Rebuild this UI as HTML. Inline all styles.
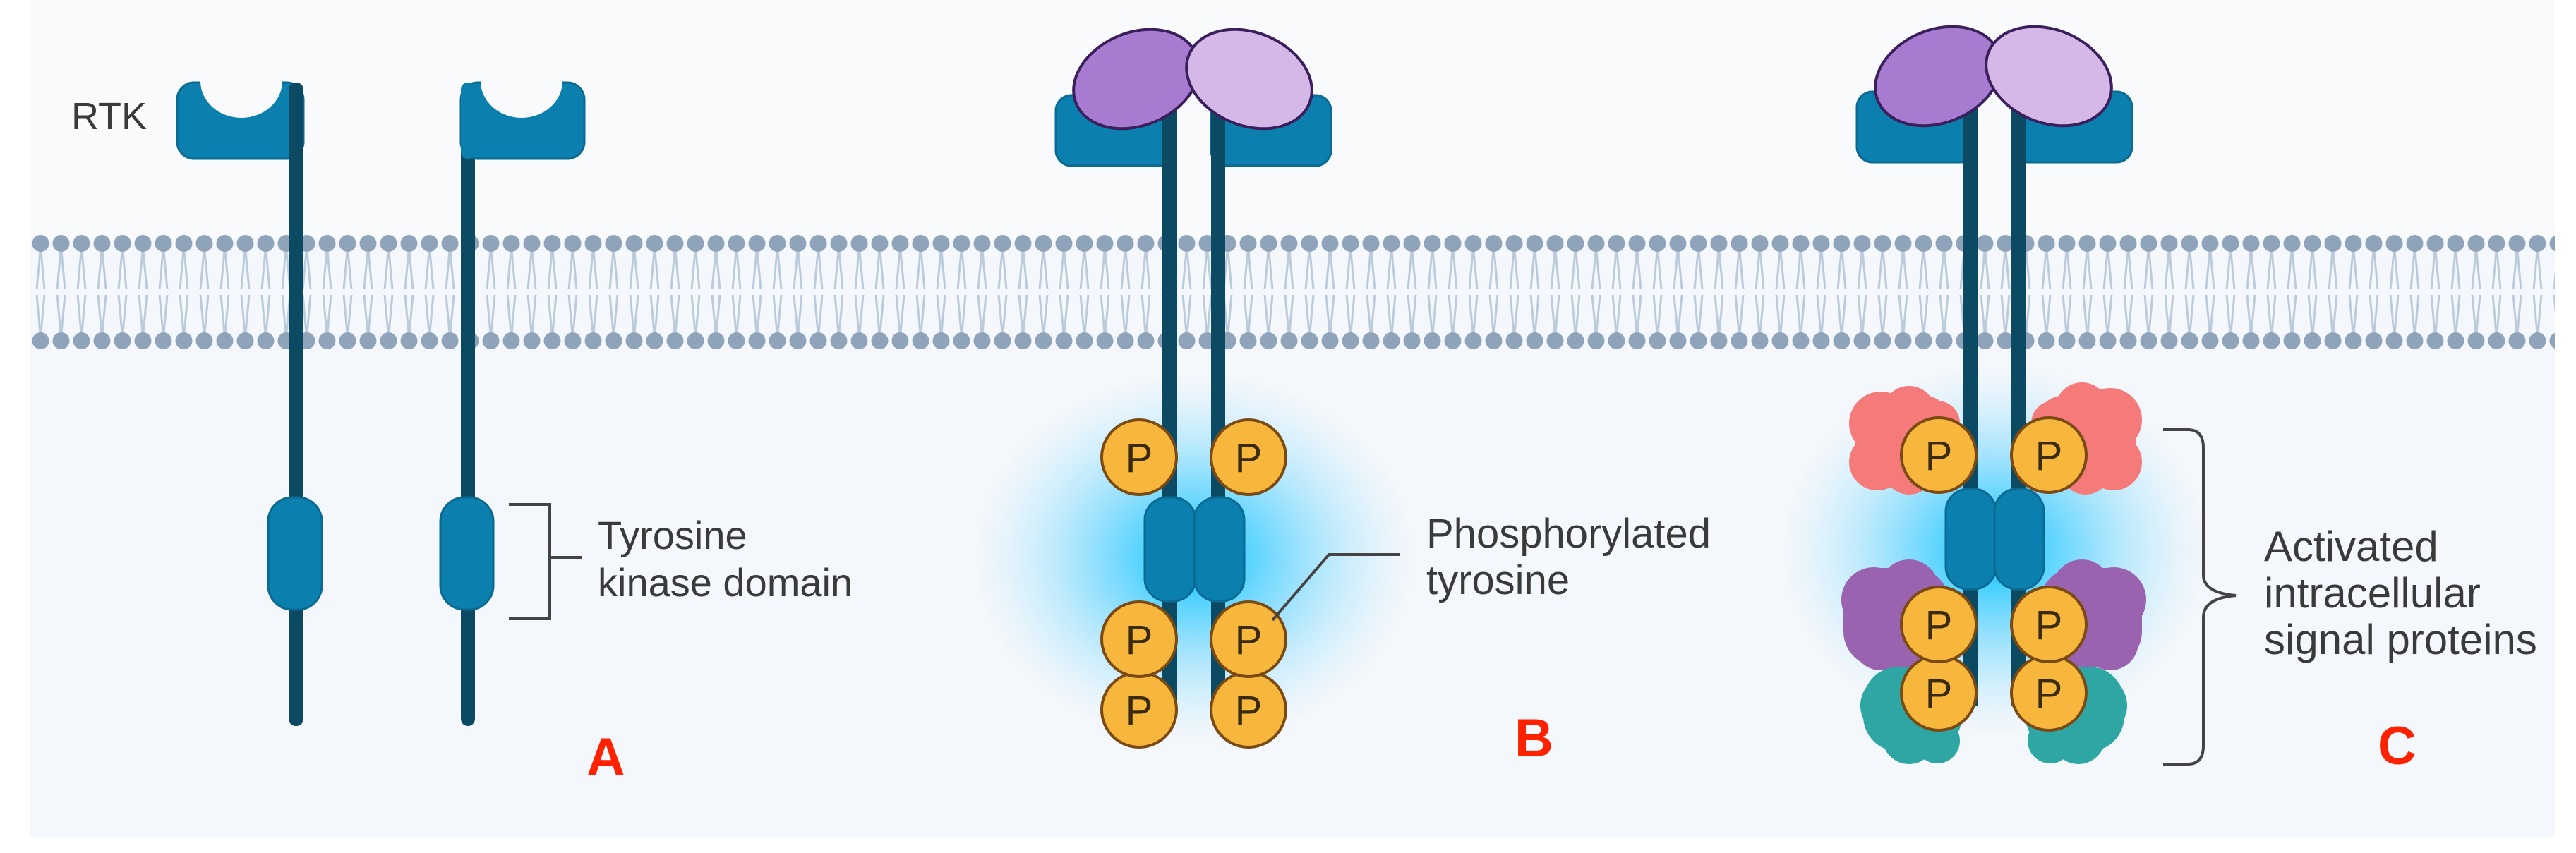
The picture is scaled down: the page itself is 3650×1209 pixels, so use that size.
<!DOCTYPE html>
<html><head><meta charset="utf-8"><style>
html,body{margin:0;padding:0;background:#fff;}
svg{display:block;}
text{font-family:"Liberation Sans",sans-serif;}
</style></head><body>
<svg width="3650" height="1209" viewBox="0 0 3650 1209" xmlns="http://www.w3.org/2000/svg">
<defs>
<pattern id="mem" x="43" y="0" width="29" height="1209" patternUnits="userSpaceOnUse">
<g stroke="#bccbdc" stroke-width="3" fill="none">
<path d="M14.5 350 L9 410 M14.5 350 L20 410 M14.5 478 L9 418 M14.5 478 L20 418"/>
</g>
<circle cx="14.5" cy="345" r="12" fill="#8fa3ba"/>
<circle cx="14.5" cy="483" r="12" fill="#8fa3ba"/>
</pattern>
<radialGradient id="glow" cx="0.5" cy="0.5" r="0.5">
<stop offset="0" stop-color="#00c2ff" stop-opacity="1"/>
<stop offset="0.45" stop-color="#40ccff" stop-opacity="0.55"/>
<stop offset="1" stop-color="#9fe3ff" stop-opacity="0"/>
</radialGradient>
</defs>
<rect x="43" y="0" width="3577" height="1187" fill="#f4f7fb"/>
<rect x="43" y="0" width="3577" height="340" fill="#f8fafc"/>
<rect x="43" y="330" width="3577" height="166" fill="url(#mem)"/>

<!-- A -->
<g>
<rect x="251" y="117" width="179" height="108" rx="24" fill="#0b7fae" stroke="#0a6a92" stroke-width="3"/>
<ellipse cx="342" cy="115" rx="58" ry="52" fill="#f8fafc"/>
<rect x="409" y="117" width="21" height="912" rx="10" fill="#0c4a64"/>
<rect x="380" y="705" width="76" height="159" rx="34" fill="#0b7fae" stroke="#0a6a92" stroke-width="3"/>
<rect x="653" y="117" width="20" height="912" rx="10" fill="#0c4a64"/>
<rect x="653" y="117" width="175" height="108" rx="24" fill="#0b7fae" stroke="#0a6a92" stroke-width="3"/>
<ellipse cx="739" cy="115" rx="58" ry="52" fill="#f8fafc"/>
<rect x="653" y="117" width="20" height="108" rx="10" fill="#0b7fae"/>
<rect x="624" y="705" width="75" height="159" rx="34" fill="#0b7fae" stroke="#0a6a92" stroke-width="3"/>
<path d="M721 715 H779 V877 H721 M779 790 H825" fill="none" stroke="#444" stroke-width="4"/>
<text x="847" y="778" font-size="56" fill="#3a3a3a">Tyrosine</text>
<text x="847" y="845" font-size="56" fill="#3a3a3a">kinase domain</text>
<text x="101" y="183" font-size="54" fill="#3a3a3a">RTK</text>
<text x="831" y="1099" font-size="76" font-weight="bold" fill="#ff2200">A</text>
</g>

<!-- B -->
<g>
<ellipse cx="1692" cy="790" rx="310" ry="260" fill="url(#glow)"/>
<rect x="1496" y="135" width="170" height="100" rx="22" fill="#0b7fae" stroke="#0a6a92" stroke-width="3"/>
<rect x="1716" y="135" width="170" height="100" rx="22" fill="#0b7fae" stroke="#0a6a92" stroke-width="3"/>
<rect x="1647" y="150" width="21" height="850" fill="#0c4a64"/>
<rect x="1716" y="150" width="20" height="850" fill="#0c4a64"/>
<ellipse cx="1610" cy="112" rx="92" ry="66" transform="rotate(-22 1610 112)" fill="#a77bd0" stroke="#3a1f5c" stroke-width="4"/>
<ellipse cx="1770" cy="112" rx="92" ry="66" transform="rotate(22 1770 112)" fill="#d5b8e8" stroke="#3a1f5c" stroke-width="4"/>
<rect x="1622" y="705" width="72" height="147" rx="32" fill="#0b7fae" stroke="#0a6a92" stroke-width="3"/>
<rect x="1692" y="705" width="71" height="147" rx="32" fill="#0b7fae" stroke="#0a6a92" stroke-width="3"/>
<g fill="#f6b73c" stroke="#7a4a12" stroke-width="4">
<circle cx="1614" cy="648" r="53"/><circle cx="1769" cy="648" r="53"/>
<circle cx="1614" cy="1006" r="53"/><circle cx="1769" cy="1006" r="53"/>
<circle cx="1614" cy="906" r="53"/><circle cx="1769" cy="906" r="53"/>
</g>
<g font-size="58" fill="#3a2a10" text-anchor="middle">
<text x="1614" y="669">P</text><text x="1769" y="669">P</text>
<text x="1614" y="927">P</text><text x="1769" y="927">P</text>
<text x="1614" y="1027">P</text><text x="1769" y="1027">P</text>
</g>
<path d="M1803 879 L1883 786 H1984" fill="none" stroke="#444" stroke-width="4"/>
<text x="2021" y="776" font-size="58" fill="#3a3a3a">Phosphorylated</text>
<text x="2021" y="842" font-size="58" fill="#3a3a3a">tyrosine</text>
<text x="2146" y="1072" font-size="76" font-weight="bold" fill="#ff2200">B</text>
</g>

<!-- C -->
<g>
<ellipse cx="2826" cy="780" rx="300" ry="260" fill="url(#glow)"/>
<rect x="2631" y="130" width="170" height="100" rx="22" fill="#0b7fae" stroke="#0a6a92" stroke-width="3"/>
<rect x="2851" y="130" width="170" height="100" rx="22" fill="#0b7fae" stroke="#0a6a92" stroke-width="3"/>
<rect x="2781" y="150" width="21" height="850" fill="#0c4a64"/>
<rect x="2850" y="150" width="20" height="850" fill="#0c4a64"/>
<ellipse cx="2746" cy="108" rx="92" ry="66" transform="rotate(-22 2746 108)" fill="#a77bd0" stroke="#3a1f5c" stroke-width="4"/>
<ellipse cx="2903" cy="108" rx="92" ry="66" transform="rotate(22 2903 108)" fill="#d5b8e8" stroke="#3a1f5c" stroke-width="4"/>
<!-- blobs -->
<g fill="#f57a7a">
<rect x="2628" y="560" width="140" height="130" rx="45"/>
<circle cx="2665" cy="600" r="45"/><circle cx="2705" cy="585" r="38"/><circle cx="2660" cy="655" r="40"/><circle cx="2705" cy="665" r="36"/><circle cx="2745" cy="600" r="32"/>
<rect x="2882" y="560" width="145" height="130" rx="45"/>
<circle cx="2990" cy="595" r="45"/><circle cx="2950" cy="580" r="38"/><circle cx="2995" cy="655" r="40"/><circle cx="2955" cy="665" r="36"/><circle cx="2910" cy="600" r="32"/>
</g>
<g fill="#9a63b0">
<rect x="2612" y="805" width="150" height="140" rx="50"/>
<circle cx="2655" cy="850" r="46"/><circle cx="2705" cy="835" r="42"/><circle cx="2665" cy="910" r="40"/><circle cx="2710" cy="905" r="38"/>
<rect x="2890" y="805" width="145" height="140" rx="50"/>
<circle cx="2995" cy="850" r="46"/><circle cx="2950" cy="835" r="42"/><circle cx="2990" cy="910" r="40"/><circle cx="2945" cy="905" r="38"/>
</g>
<g fill="#2ea6a4">
<rect x="2640" y="945" width="140" height="120" rx="50"/>
<circle cx="2680" cy="1000" r="44"/><circle cx="2705" cy="1045" r="38"/><circle cx="2745" cy="1050" r="32"/>
<rect x="2870" y="945" width="140" height="120" rx="50"/>
<circle cx="2970" cy="1000" r="44"/><circle cx="2945" cy="1045" r="38"/><circle cx="2905" cy="1050" r="32"/>
</g>
<rect x="2757" y="693" width="71" height="142" rx="32" fill="#0b7fae" stroke="#0a6a92" stroke-width="3"/>
<rect x="2826" y="693" width="70" height="142" rx="32" fill="#0b7fae" stroke="#0a6a92" stroke-width="3"/>
<g fill="#f6b73c" stroke="#7a4a12" stroke-width="4">
<circle cx="2747" cy="645" r="53"/><circle cx="2903" cy="645" r="53"/>
<circle cx="2747" cy="982" r="53"/><circle cx="2903" cy="982" r="53"/>
<circle cx="2747" cy="885" r="53"/><circle cx="2903" cy="885" r="53"/>
</g>
<g font-size="58" fill="#3a2a10" text-anchor="middle">
<text x="2747" y="666">P</text><text x="2903" y="666">P</text>
<text x="2747" y="906">P</text><text x="2903" y="906">P</text>
<text x="2747" y="1003">P</text><text x="2903" y="1003">P</text>
</g>
<path d="M3065 609 H3100 Q3122 609 3122 635 V815 Q3122 840 3168 844 Q3122 848 3122 875 V1057 Q3122 1083 3100 1083 H3065" fill="none" stroke="#444" stroke-width="4"/>
<text x="3208" y="795" font-size="60" fill="#3a3a3a">Activated</text>
<text x="3208" y="861" font-size="60" fill="#3a3a3a">intracellular</text>
<text x="3208" y="927" font-size="60" fill="#3a3a3a">signal proteins</text>
<text x="3369" y="1083" font-size="76" font-weight="bold" fill="#ff2200">C</text>
</g>
</svg>
</body></html>
